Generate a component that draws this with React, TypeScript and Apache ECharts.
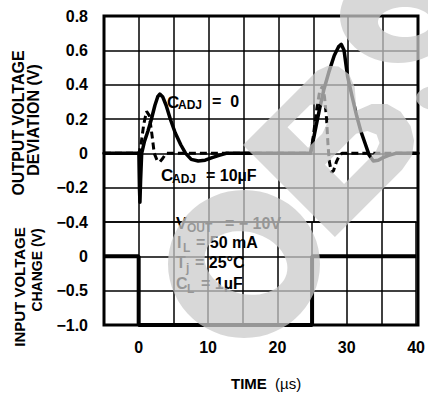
import React, { useEffect, useRef } from 'react';
import * as echarts from 'echarts';

// ---------- data ----------
const X_MIN = -5;
const X_MAX = 40;
const X_STEP = 5;
const X_TICK_LABELS = [0, 10, 20, 30, 40];

const OUT_Y_MIN = -0.4;
const OUT_Y_MAX = 0.8;
const OUT_Y_STEP = 0.2;

const IN_Y_MIN = -1.0;
const IN_Y_MAX = 0.5;
const IN_Y_STEP = 0.5;
const IN_Y_LABELS = [0, -0.5, -1.0];

// Output voltage deviation, C_ADJ = 0 (solid)
const timeCadj0 = [-5, 0, 0.08, 0.15, 0.25, 0.4, 0.8, 1.3, 1.8, 2.3, 2.7, 3.0, 3.4, 3.9, 4.5, 5.2, 6.0, 6.7, 7.5, 8.5, 9.5, 10.5, 11.5, 12.5, 24.6, 25.0, 25.4, 25.9, 26.5, 27.2, 28.0, 28.6, 29.0, 29.4, 29.9, 30.5, 31.2, 31.8, 32.4, 33.0, 33.6, 34.3, 35.0, 35.8, 36.8, 40];
const devCadj0 = [0, 0, -0.2, -0.285, -0.15, 0.0, 0.07, 0.13, 0.2, 0.28, 0.33, 0.345, 0.33, 0.28, 0.2, 0.12, 0.05, 0.0, -0.035, -0.045, -0.04, -0.025, -0.012, 0, 0, 0.08, 0.16, 0.26, 0.37, 0.47, 0.57, 0.62, 0.635, 0.6, 0.45, 0.34, 0.22, 0.13, 0.06, -0.01, -0.045, -0.04, -0.025, -0.012, 0, 0];

// Output voltage deviation, C_ADJ = 10uF (dashed)
const timeCadj10 = [-5, 0, 0.3, 0.7, 1.1, 1.5, 1.9, 2.2, 2.6, 3.0, 3.4, 3.9, 24.6, 25.0, 25.5, 25.9, 26.3, 26.6, 26.9, 27.1, 27.3, 27.6, 27.9, 28.3, 28.7, 29.1, 40];
const devCadj10 = [0, 0, 0.05, 0.17, 0.245, 0.22, 0.1, 0.0, -0.04, -0.05, -0.03, 0, 0, 0.1, 0.26, 0.36, 0.39, 0.33, 0.2, 0.05, -0.05, -0.11, -0.1, -0.05, -0.015, 0, 0];

// Input voltage change (step)
const timeInput = [-5, 0, 0, 25, 25, 40];
const inputChange = [0, 0, -1, -1, 0, 0];

// ---------- layout ----------
const GL = 104;
const GT = 16;
const GW = 314;
const GH_TOP = 206;
const GH_BOT = 103;
const FONT = '"Liberation Sans", Arial, Helvetica, sans-serif';

const zip = (xs: number[], ys: number[]) => xs.map((x, i) => [x, ys[i]]);

// ---------- watermark (decorative) ----------
const S2 = Math.SQRT1_2;
function area(p: number[][]) {
  let a = 0;
  for (let i = 0; i < p.length; i++) {
    const q = p[(i + 1) % p.length];
    a += p[i][0] * q[1] - q[0] * p[i][1];
  }
  return a / 2;
}
function orient(p: number[][], positive: boolean) {
  const a = area(p);
  return (a > 0) === positive ? p : p.slice().reverse();
}
function d(p: number[][]) {
  return 'M' + p.map((q) => q[0].toFixed(1) + ' ' + q[1].toFixed(1)).join(' L') + ' Z ';
}
function ellipse(cx: number, cy: number, rx: number, ry: number, rotDeg: number, n = 60) {
  const r = (rotDeg * Math.PI) / 180;
  const pts: number[][] = [];
  for (let i = 0; i < n; i++) {
    const t = (i / n) * Math.PI * 2;
    const ex = rx * Math.cos(t);
    const ey = ry * Math.sin(t);
    pts.push([cx + ex * Math.cos(r) - ey * Math.sin(r), cy + ex * Math.sin(r) + ey * Math.cos(r)]);
  }
  return pts;
}
function uvPts(list: number[][], ox: number, oy: number) {
  return list.map(([u, v]) => [ox + (u + v) * S2, oy + (v - u) * S2]);
}
const B_OUT = [[0, 0], [105, 0], [116, 4], [123, 12], [125, 25], [120, 38], [108, 52], [105, 56], [120, 62], [131, 73], [135, 88], [132, 105], [124, 118], [112, 127], [95, 130], [0, 130]];
const B_UP = [[44, 19], [76, 19], [83, 25], [84, 34], [78, 43], [64, 48], [44, 48]];
const B_LO = [[44, 72], [88, 72], [98, 78], [102, 87], [98, 95], [88, 99], [44, 99]];

function watermarkPath() {
  let s = '';
  s += d(orient(ellipse(244, 264, 76, 74, 0), true));
  s += d(orient(ellipse(246, 263, 42, 31, 15), false));
  s += d(orient(uvPts(B_OUT, 243, 145), true));
  s += d(orient(uvPts(B_UP, 243, 145), false));
  s += d(orient(uvPts(B_LO, 243, 145), false));
  s += d(orient(ellipse(398, 16, 58, 47, 0), true));
  s += d(orient(ellipse(405, 22, 27, 15, 0), false));
  s += d(orient(ellipse(440, 98, 24, 13, 0), true));
  return s;
}
echarts.graphic.registerShape('wm', echarts.graphic.extendPath(watermarkPath(), {}) as any);

// ---------- text helpers ----------
function txt(text: string, x: number, y: number, size: number, extra: any = {}) {
  return {
    type: 'text',
    x,
    y,
    z: 50,
    silent: true,
    rotation: extra.rotation || 0,
    style: {
      text,
      fill: extra.fill || '#000',
      font: `${extra.weight || 'bold'} ${size}px ${FONT}`,
      textAlign: extra.align || 'left',
      align: extra.align || 'left',
      textVerticalAlign: 'middle',
      verticalAlign: 'middle',
    },
  };
}

const fmtY = (v: number) => {
  const r = Math.round(v * 10) / 10;
  if (r === 0) return '0';
  return (r < 0 ? '\u2212' : '') + Math.abs(r).toFixed(1);
};

export default function App() {
  const ref = useRef<HTMLDivElement>(null);
  useEffect(() => {
    if (!ref.current) return;
    const chart = echarts.init(ref.current, null, { renderer: 'svg' });
    const splitLine = { show: true, lineStyle: { color: '#000', width: 1.5 } };
    const labelStyle = { color: '#000', fontSize: 16, fontWeight: 'bold', fontFamily: FONT };
    chart.setOption({
      animation: false,
      backgroundColor: '#fff',
      grid: [
        { left: GL, top: GT, width: GW, height: GH_TOP },
        { left: GL, top: GT + GH_TOP, width: GW, height: GH_BOT },
      ],
      xAxis: [
        {
          gridIndex: 0, type: 'value', min: X_MIN, max: X_MAX, interval: X_STEP,
          axisLine: { show: false }, axisTick: { show: false }, axisLabel: { show: false }, splitLine,
        },
        {
          gridIndex: 1, type: 'value', min: X_MIN, max: X_MAX, interval: X_STEP,
          axisLine: { show: false }, axisTick: { show: false }, splitLine,
          axisLabel: {
            ...labelStyle, margin: 14,
            formatter: (v: number) => (X_TICK_LABELS.includes(Math.round(v)) ? String(Math.round(v)) : ''),
          },
        },
      ],
      yAxis: [
        {
          gridIndex: 0, type: 'value', min: OUT_Y_MIN, max: OUT_Y_MAX, interval: OUT_Y_STEP,
          axisLine: { show: false }, axisTick: { show: false }, splitLine,
          axisLabel: { ...labelStyle, margin: 16, formatter: fmtY },
        },
        {
          gridIndex: 1, type: 'value', min: IN_Y_MIN, max: IN_Y_MAX, interval: IN_Y_STEP,
          axisLine: { show: false }, axisTick: { show: false }, splitLine,
          axisLabel: {
            ...labelStyle, margin: 16,
            formatter: (v: number) => {
              const r = Math.round(v * 10) / 10;
              return IN_Y_LABELS.includes(r) ? fmtY(r) : '';
            },
          },
        },
      ],
      series: [
        {
          name: 'CADJ=0', type: 'line', xAxisIndex: 0, yAxisIndex: 0, data: zip(timeCadj0, devCadj0),
          symbol: 'none', clip: false, z: 4,
          lineStyle: { color: '#000', width: 3.5, join: 'round', cap: 'round' },
        },
        {
          name: 'CADJ=10uF', type: 'line', xAxisIndex: 0, yAxisIndex: 0, data: zip(timeCadj10, devCadj10),
          symbol: 'none', clip: false, z: 3,
          lineStyle: { color: '#000', width: 3, type: [7, 4] },
        },
        {
          name: 'Input', type: 'line', xAxisIndex: 1, yAxisIndex: 1, data: zip(timeInput, inputChange),
          symbol: 'none', clip: false, z: 3,
          lineStyle: { color: '#000', width: 4 },
        },
      ],
      graphic: [
        {
          type: 'rect', z: 10, silent: true,
          shape: { x: GL, y: GT, width: GW, height: GH_TOP + GH_BOT },
          style: { fill: 'none', stroke: '#000', lineWidth: 3 },
        },
        // axis titles
        txt('OUTPUT VOLTAGE', 18, 123, 16, { rotation: Math.PI / 2, align: 'center' }),
        txt('DEVIATION (V)', 33, 120, 16, { rotation: Math.PI / 2, align: 'center' }),
        txt('INPUT VOLTAGE', 19, 287, 15, { rotation: Math.PI / 2, align: 'center' }),
        txt('CHANGE (V)', 37, 270, 14, { rotation: Math.PI / 2, align: 'center' }),
        txt('TIME', 231, 383, 15),
        txt('(\u00b5s)', 275, 383, 15, { weight: 'normal' }),
        // C_ADJ = 0
        txt('C', 167, 102, 17),
        txt('ADJ', 178, 105, 12),
        txt('=  0', 212, 101, 16),
        // C_ADJ = 10uF
        txt('C', 161, 175, 17),
        txt('ADJ', 172, 179, 12),
        txt('= 10\u00b5F', 206, 175, 16),
        // conditions
        txt('V', 176, 223, 16),
        txt('OUT', 187, 228, 12),
        txt('= \u2212 10V', 225, 223, 16),
        txt('I', 177, 242, 16),
        txt('L', 183, 248, 12),
        txt('= 50 mA', 196, 242, 16),
        txt('T', 176, 262, 16),
        txt('j', 186, 268, 12),
        txt('= 25\u00b0C', 195, 262, 16),
        txt('C', 176, 283, 16),
        txt('L', 187, 289, 12),
        txt('= 1\u00b5F', 201, 283, 16),
        // watermark overlay
        {
          type: 'wm', x: 0, y: 0, z: 100, silent: true,
          style: { fill: '#cacaca', opacity: 0.74 },
        },
      ],
    });
    return () => chart.dispose();
  }, []);
  return <div ref={ref} style={{ position: 'absolute', left: 0, top: 0, width: 428, height: 394 }} />;
}
